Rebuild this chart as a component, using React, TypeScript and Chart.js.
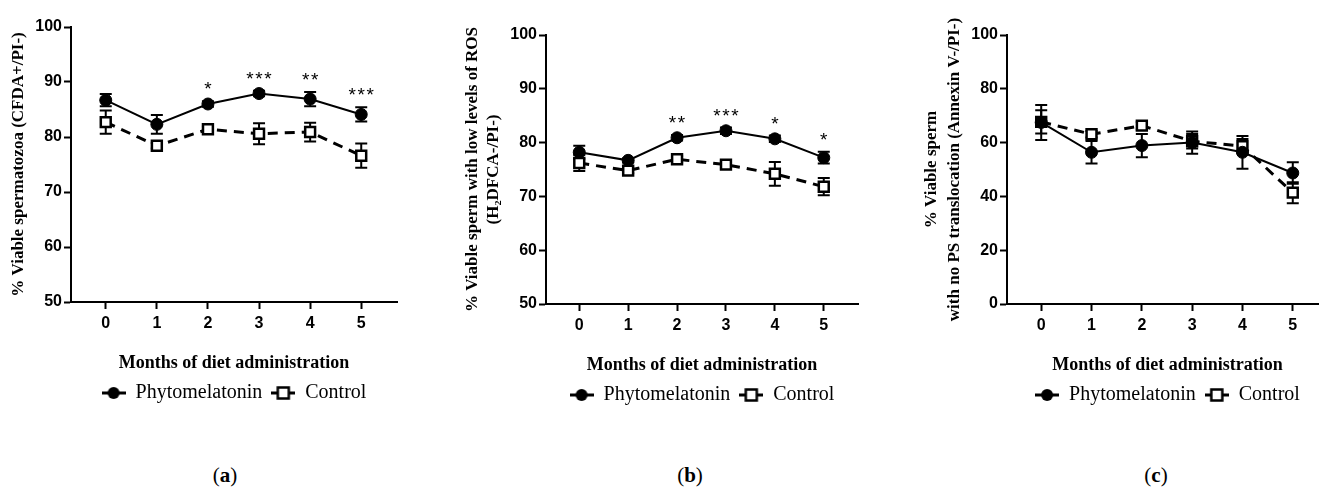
import React, { useEffect, useRef } from "react";
import { Chart, registerables } from "chart.js";

Chart.register(...registerables);

// ---------- data ----------
const months = [0, 1, 2, 3, 4, 5];
const xTickValues = [0, 1, 2, 3, 4, 5];
const seriesNames = ["Phytomelatonin", "Control"];
const xTitle = "Months of diet administration";

// panel (a)
const aTitle = "% Viable spermatozoa (CFDA+/PI-)";
const aYTicks = [50, 60, 70, 80, 90, 100];
const aPhyto = [86.7, 82.3, 86.0, 87.9, 86.9, 84.1];
const aPhytoErr = [1.1, 1.7, 0.5, 0.5, 1.3, 1.3];
const aControl = [82.7, 78.4, 81.4, 80.6, 80.9, 76.6];
const aControlErr = [2.1, 0.5, 0.5, 1.9, 1.7, 2.2];
const aStars = ["", "", "*", "***", "**", "***"];

// panel (b)
const bTitle = ["% Viable sperm with low levels of ROS", "(H\u2082DFCA-/PI-)"];
const bYTicks = [50, 60, 70, 80, 90, 100];
const bPhyto = [78.2, 76.7, 80.9, 82.2, 80.7, 77.2];
const bPhytoErr = [1.2, 0.4, 0.5, 0.6, 0.6, 1.1];
const bControl = [76.2, 74.8, 76.9, 75.9, 74.2, 71.8];
const bControlErr = [1.5, 0.5, 0.6, 0.7, 2.2, 1.6];
const bStars = ["", "", "**", "***", "*", "*"];

// panel (c)
const cTitle = ["% Viable sperm", "with no PS translocation (Annexin V-/PI-)"];
const cYTicks = [0, 20, 40, 60, 80, 100];
const cPhyto = [67.5, 56.4, 58.9, 60.0, 56.4, 48.7];
const cPhytoErr = [6.5, 4.2, 4.3, 4.1, 6.1, 4.0];
const cControl = [67.7, 63.1, 66.3, 60.5, 58.7, 41.4];
const cControlErr = [4.3, 1.2, 1.4, 2.7, 2.6, 3.9];
const cStars = ["", "", "", "", "", ""];

const captions = ["a", "b", "c"];

// ---------- layout ----------
type Layout = {
  left: number; top: number; width: number; height: number;
  pad: { left: number; top: number; right: number; bottom: number };
  yWidth: number; titleLH: number; capX: number;
};

const layouts: Layout[] = [
  { left: 0, top: 0, width: 420, height: 430, pad: { left: 8, top: 27, right: 23, bottom: 17 }, yWidth: 63, titleLH: 20.4, capX: 225 },
  { left: 461, top: 0, width: 417, height: 432, pad: { left: 1, top: 35, right: 20, bottom: 17 }, yWidth: 84, titleLH: 21, capX: 690 },
  { left: 920, top: 0, width: 428, height: 432, pad: { left: 0, top: 35, right: 20, bottom: 17 }, yWidth: 87, titleLH: 23, capX: 1156 },
];

function makeIcon(kind: "circle" | "square"): HTMLCanvasElement {
  const c = document.createElement("canvas");
  c.width = 24;
  c.height = 16;
  const g = c.getContext("2d")!;
  g.strokeStyle = "#000";
  g.lineWidth = 3;
  g.beginPath();
  g.moveTo(0, 8);
  g.lineTo(24, 8);
  g.stroke();
  if (kind === "circle") {
    g.fillStyle = "#000";
    g.beginPath();
    g.arc(12, 8, 6, 0, Math.PI * 2);
    g.fill();
  } else {
    g.fillStyle = "#fff";
    g.fillRect(6.5, 2.5, 11, 11);
    g.lineWidth = 2.5;
    g.strokeRect(6.5, 2.5, 11, 11);
  }
  return c;
}

const errorBarPlugin = {
  id: "errorBars",
  beforeDatasetsDraw(chart: any) {
    const ctx = chart.ctx;
    const xs = chart.scales.x;
    const ys = chart.scales.y;
    ctx.save();
    ctx.strokeStyle = "#000";
    ctx.lineWidth = 2;
    ctx.setLineDash([]);
    chart.data.datasets.forEach((ds: any) => {
      const errs: number[] = ds.errors || [];
      ds.data.forEach((p: any, i: number) => {
        const e = errs[i] || 0;
        const x = xs.getPixelForValue(p.x);
        const y1 = ys.getPixelForValue(p.y + e);
        const y2 = ys.getPixelForValue(p.y - e);
        ctx.beginPath();
        ctx.moveTo(x, y1);
        ctx.lineTo(x, y2);
        ctx.moveTo(x - 6, y1);
        ctx.lineTo(x + 6, y1);
        ctx.moveTo(x - 6, y2);
        ctx.lineTo(x + 6, y2);
        ctx.stroke();
      });
    });
    ctx.restore();
  },
};

const starsPlugin = {
  id: "stars",
  afterDatasetsDraw(chart: any) {
    const ctx = chart.ctx;
    const xs = chart.scales.x;
    const ys = chart.scales.y;
    const ds0 = chart.data.datasets[0];
    const stars: string[] = ds0.stars || [];
    ctx.save();
    ctx.fillStyle = "#000";
    ctx.font = "19px 'Liberation Sans'";
    ctx.textAlign = "center";
    ctx.textBaseline = "alphabetic";
    stars.forEach((s, i) => {
      if (!s) return;
      let top = Infinity;
      chart.data.datasets.forEach((ds: any) => {
        const p = ds.data[i];
        const e = (ds.errors || [])[i] || 0;
        top = Math.min(top, ys.getPixelForValue(p.y + e));
      });
      const x = xs.getPixelForValue(months[i]);
      const n = s.length;
      for (let k = 0; k < n; k++) {
        const cx = x + (k - (n - 1) / 2) * 9;
        ctx.fillText("*", cx, top - 6);
      }
    });
    ctx.restore();
  },
};

type Spec = {
  yTitle: string | string[];
  yTicks: number[];
  phyto: number[];
  phytoErr: number[];
  control: number[];
  controlErr: number[];
  stars: string[];
};

const specs: Spec[] = [
  { yTitle: aTitle, yTicks: aYTicks, phyto: aPhyto, phytoErr: aPhytoErr, control: aControl, controlErr: aControlErr, stars: aStars },
  { yTitle: bTitle, yTicks: bYTicks, phyto: bPhyto, phytoErr: bPhytoErr, control: bControl, controlErr: bControlErr, stars: bStars },
  { yTitle: cTitle, yTicks: cYTicks, phyto: cPhyto, phytoErr: cPhytoErr, control: cControl, controlErr: cControlErr, stars: cStars },
];

function Panel({ spec, layout }: { spec: Spec; layout: Layout }) {
  const ref = useRef<HTMLCanvasElement>(null);
  useEffect(() => {
    const canvas = ref.current!;
    const icons = [makeIcon("circle"), makeIcon("square")];
    const tickFont = { family: "'Liberation Sans', Arial, sans-serif", weight: "bold" as const, size: 16 };
    const chart = new Chart(canvas, {
      type: "line",
      data: {
        datasets: [
          {
            label: seriesNames[0],
            data: months.map((m, i) => ({ x: m, y: spec.phyto[i] })),
            errors: spec.phytoErr,
            stars: spec.stars,
            borderColor: "#000",
            borderWidth: 2,
            pointStyle: "circle",
            pointRadius: 6,
            pointBackgroundColor: "#000",
            pointBorderColor: "#000",
            pointBorderWidth: 1,
            fill: false,
          } as any,
          {
            label: seriesNames[1],
            data: months.map((m, i) => ({ x: m, y: spec.control[i] })),
            errors: spec.controlErr,
            borderColor: "#000",
            borderWidth: 3,
            borderDash: [10, 7],
            pointStyle: "rect",
            pointRadius: 7,
            pointBackgroundColor: "#fff",
            pointBorderColor: "#000",
            pointBorderWidth: 2.5,
            fill: false,
          } as any,
        ],
      },
      options: {
        responsive: false,
        animation: false,
        devicePixelRatio: 1,
        layout: { padding: layout.pad },
        scales: {
          x: {
            type: "linear",
            min: -0.68,
            max: 5.7,
            afterBuildTicks: (s: any) => {
              s.ticks = xTickValues.map((v) => ({ value: v }));
            },
            afterFit: (s: any) => {
              s.height = 72;
            },
            ticks: { font: tickFont, color: "#000", padding: 5, maxRotation: 0 },
            grid: { display: true, drawOnChartArea: false, drawTicks: true, tickLength: 7, tickWidth: 2, tickColor: "#000" },
            border: { display: true, width: 2, color: "#000" },
            title: {
              display: true,
              text: xTitle,
              color: "#000",
              padding: 0,
              font: { family: "'Liberation Serif', serif", weight: "bold", size: 18 },
            },
          },
          y: {
            type: "linear",
            min: spec.yTicks[0],
            max: spec.yTicks[spec.yTicks.length - 1],
            afterBuildTicks: (s: any) => {
              s.ticks = spec.yTicks.map((v) => ({ value: v }));
            },
            afterFit: (s: any) => {
              s.width = layout.yWidth;
            },
            ticks: { font: tickFont, color: "#000", padding: 2 },
            grid: { display: true, drawOnChartArea: false, drawTicks: true, tickLength: 7, tickWidth: 2, tickColor: "#000" },
            border: { display: true, width: 2, color: "#000" },
            title: {
              display: true,
              text: spec.yTitle as any,
              color: "#000",
              padding: 0,
              font: { family: "'Liberation Serif', serif", weight: "bold", size: 17, lineHeight: layout.titleLH / 17 },
            },
          },
        },
        plugins: {
          tooltip: { enabled: false },
          title: { display: false },
          legend: {
            display: true,
            position: "bottom",
            fullSize: false,
            labels: {
              usePointStyle: true,
              pointStyleWidth: 24,
              boxHeight: 20,
              padding: 9,
              color: "#000",
              font: { family: "'Liberation Serif', serif", size: 20 },
              generateLabels: (ch: any) =>
                ch.data.datasets.map((ds: any, i: number) => ({
                  text: ds.label,
                  pointStyle: icons[i],
                  fillStyle: "#000",
                  strokeStyle: "#000",
                  lineWidth: 0,
                  hidden: false,
                  datasetIndex: i,
                  fontColor: "#000",
                })),
            },
          },
        },
      } as any,
      plugins: [errorBarPlugin, starsPlugin],
    });
    return () => chart.destroy();
  }, [spec, layout]);
  return (
    <canvas
      ref={ref}
      width={layout.width}
      height={layout.height}
      style={{ position: "absolute", left: layout.left, top: layout.top, width: layout.width, height: layout.height }}
    />
  );
}

export default function App() {
  return (
    <div
      style={{
        position: "fixed",
        left: 0,
        top: 0,
        width: 1319,
        height: 489,
        overflow: "hidden",
        background: "#fff",
      }}
    >
      {specs.map((s, i) => (
        <Panel key={i} spec={s} layout={layouts[i]} />
      ))}
      {captions.map((c, i) => (
        <div
          key={"cap" + i}
          style={{
            position: "absolute",
            left: layouts[i].capX - 50,
            top: 462,
            width: 100,
            textAlign: "center",
            fontFamily: "'Liberation Serif', serif",
            fontSize: 21,
            lineHeight: "26px",
            color: "#000",
          }}
        >
          (<b>{c}</b>)
        </div>
      ))}
    </div>
  );
}
